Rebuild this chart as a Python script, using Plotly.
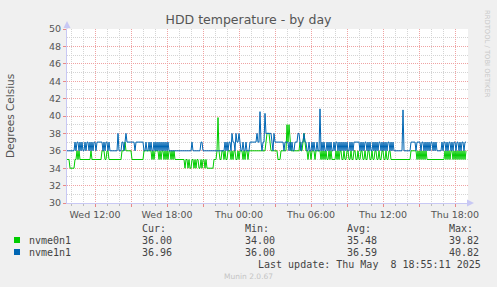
import pandas as pd
import plotly.graph_objects as go

# ---------------- data (5-minute samples, Wed 09:40 -> Thu 18:55) ----------------
start_time = "2025-05-07 09:40"
step = "5min"

nvme0n1 = [
    35, 35, 35,
    34, 34, 34, 34, 34,
    35, 35,
    36, 35, 36, 35,
    35, 35, 35, 35, 35, 35, 35, 35, 35,
    35, 36, 35,
    35, 35, 35, 35, 35, 35, 35, 35, 35,
    36, 36, 36,
    35, 35,
    36, 36,
    35, 35, 35, 35, 35, 35, 35, 35, 35, 35, 35, 35,
    35, 36, 36, 36,
    37, 36,
    36, 36, 36, 36, 36,
    35, 35, 35, 35, 35, 35, 35, 35, 35, 35, 35, 35,
    36, 36, 36, 36, 36, 36, 36, 36,
    35, 36, 35, 36, 36, 36, 36,
    35, 36, 35, 36, 36, 35, 36, 35, 36, 35, 36, 36, 35, 36, 35, 36, 35,
    35, 35, 35, 35, 35, 35, 35, 35, 35,
    34, 35, 35, 34, 35, 34, 34, 35, 35, 34, 35, 34, 35, 35, 34, 34, 35, 34, 35, 35, 34, 35,
    34, 34, 34, 34, 34, 34, 34,
    35, 35, 35, 36,
    39.82,
    36, 35, 35, 36, 36, 35, 36, 35, 35, 36, 36, 36, 35, 36, 35, 36,
    36, 35, 35, 36, 35, 36, 36, 36, 35, 36, 35, 36, 36, 35, 36, 36,
    36, 36, 36, 36, 36, 36, 36, 36, 36, 36, 36, 36, 36, 36, 36,
    37, 38, 38,
    38, 37, 36, 36,
    36, 36, 36, 36, 36,
    35, 35, 35,
    36, 36, 36, 36, 36, 36,
    39, 37, 39, 37,
    36, 36, 36, 36, 36, 36, 36, 36, 36, 37, 36, 36,
    37, 38, 37, 36,
    36, 35, 36, 36, 35, 36, 36, 36, 35, 36, 36, 36, 36, 36,
    35, 36, 35, 36, 35, 36, 35, 35, 36, 35, 36, 35, 35, 35, 35, 36, 35, 36,
    35, 36, 36, 35, 35, 36, 35, 35, 36, 36, 35, 35, 36, 35, 35,
    36, 36, 35, 35, 36, 35, 35, 36, 36, 35, 35, 36, 35, 35, 36,
    36, 35, 35, 36, 35, 35, 36, 36, 35, 35, 36, 35, 35, 36, 36,
    35, 35, 36, 35, 35, 36, 36, 35, 35, 35,
    35, 35, 35, 35, 35, 35, 35, 35, 35, 35, 35, 35, 35, 35, 35, 35, 35,
    36, 36, 36, 36, 36, 36,
    35, 36, 35, 36, 35, 36, 35, 36, 35, 36, 35,
    35, 35, 35, 35, 35, 35, 35, 35, 35, 35, 35, 35, 35, 35, 35, 35, 35,
    36, 35, 36, 35, 36, 35, 36, 36, 35, 36, 35, 36, 35, 36, 35, 36, 35, 36, 35, 36, 35, 36,
]

nvme1n1 = [
    36, 36, 36, 36, 36, 36, 36, 36,
    37, 36, 37, 37, 36, 37, 36, 37, 36, 36, 37, 36, 37, 37, 36, 37, 36, 37, 36, 37, 37, 36,
    37, 37, 37, 37, 37, 37,
    36, 37, 36, 37, 37, 36, 37, 36,
    36, 36, 36, 36, 36, 36, 36,
    38,
    36, 36, 36,
    37, 37, 36,
    37, 38, 37, 37,
    37, 37, 37, 37, 37, 37,
    36,
    37, 37, 37, 37, 37, 37, 37, 37,
    36, 36, 37, 36, 36, 37, 36, 37, 36, 36, 37, 36, 37, 36, 37, 36, 37, 36, 37, 36, 37,
    36, 37, 36, 37, 36,
    36, 36, 36, 36, 36, 36, 36, 36, 36, 36, 36, 36, 36, 36, 36, 36, 36, 36, 36, 36, 36, 36,
    37,
    36, 36, 36, 36, 36, 36, 36, 36, 37,
    37,
    36, 36, 36, 36, 36, 36, 36, 36, 36, 36, 36, 36, 36, 36, 36, 36, 36, 36, 36, 36, 36, 36,
    37, 36, 37, 36, 37, 37, 36,
    38,
    37, 37, 36,
    38, 37,
    37, 38, 37,
    36, 36, 37, 36, 36, 37, 36, 36, 36,
    37, 37, 37, 37, 37, 37, 37, 38, 37, 37,
    40.5,
    37, 36, 37, 37,
    40.3,
    38, 38, 38, 38, 38, 38,
    37, 36,
    38,
    37, 37,
    37, 37, 37, 37, 37, 37, 37, 36, 37, 37, 37,
    37, 36, 37, 36, 37, 36, 36, 37,
    37, 37, 38, 38, 37, 36,
    37, 37, 38, 37, 37, 36,
    36, 37, 36, 36, 37, 36, 37, 36, 36, 37, 36, 36,
    40.82,
    36, 37, 36, 37, 36, 36, 37, 36, 37, 36, 37, 36, 36, 37, 36,
    37, 37, 36, 37, 36, 37, 36, 37, 36, 37, 36, 37, 36, 36, 37, 36, 37, 36, 37, 37,
    37, 37, 37, 37,
    36, 37, 36, 37, 36, 37, 37, 36, 37, 36, 37, 36, 36, 37, 36, 37, 36,
    37, 36, 37, 37, 36, 37, 36, 37, 36, 37, 36, 37, 37, 36, 37, 36, 37,
    36, 36, 36, 36, 36, 36, 36, 36, 36,
    40.7,
    36, 36, 36, 36, 36, 36, 36,
    37, 37, 37, 37, 37, 36, 37, 37, 37, 37, 36, 37, 37, 36, 37, 36, 37, 36, 37, 36, 37, 37, 36, 37, 36, 37,
    36, 36, 36, 36, 36,
    37, 36, 37, 37, 36, 37, 36, 37, 37, 36, 37, 36, 37, 37, 36, 37, 37, 36, 37, 36, 37, 37, 36, 37, 37,
]

series_names = ["nvme0n1", "nvme1n1"]
series_colors = ["#00CC00", "#0066B3"]
stat_headers = ["Cur:", "Min:", "Avg:", "Max:"]
stat_values = [
    ["36.00", "34.00", "35.48", "39.82"],
    ["36.96", "36.00", "36.59", "40.82"],
]

x_tickvals = ["2025-05-07 12:00", "2025-05-07 15:00", "2025-05-07 18:00", "2025-05-07 21:00",
              "2025-05-08 00:00", "2025-05-08 03:00", "2025-05-08 06:00", "2025-05-08 09:00",
              "2025-05-08 12:00", "2025-05-08 15:00", "2025-05-08 18:00"]
x_ticktext = ["Wed 12:00", "", "Wed 18:00", "", "Thu 00:00", "", "Thu 06:00", "",
              "Thu 12:00", "", "Thu 18:00"]
x_range = ["2025-05-07 09:40", "2025-05-08 19:05"]
y_range = [30, 50]

title_text = "HDD temperature - by day"
y_title = "Degrees Celsius"
last_update = "Last update: Thu May  8 18:55:11 2025"
footer = "Munin 2.0.67"
side_text = "RRDTOOL / TOBI OETIKER"

# ---------------- layout geometry (pixels) ----------------
W, H = 497, 287
L, R, T, B = 67, 468, 29, 203


def px(x):
    return (x - L) / (R - L)


def py(y):
    return (B - y) / (B - T)


MAJ = "#EFA3A3"
MIN = "#D4D4D4"
AXC = "#C8C8F4"
TXT = "#555555"

fig = go.Figure()
for name, vals, col in zip(series_names, [nvme0n1, nvme1n1], series_colors):
    t = pd.date_range(start_time, periods=len(vals), freq=step)
    fig.add_trace(go.Scatter(x=t, y=vals, mode="lines", name=name,
                             line=dict(color=col, width=1), hoverinfo="skip"))

fig.update_layout(
    width=W, height=H,
    margin=dict(l=L, r=W - R, t=T, b=H - B, pad=0),
    paper_bgcolor="#F0F0F0", plot_bgcolor="#FFFFFF",
    showlegend=False,
    font=dict(family="DejaVu Sans", size=10, color=TXT),
    title=dict(text=title_text, x=0.5, xanchor="center", y=1 - 20 / H, yanchor="middle",
               font=dict(family="DejaVu Sans", size=12.5, color=TXT)),
)

fig.update_xaxes(
    type="date", range=x_range, tickmode="array", tickvals=x_tickvals, ticktext=x_ticktext,
    showgrid=True, gridcolor=MAJ, griddash="1px,1px", gridwidth=1,
    ticks="outside", ticklen=3, tickcolor="#E88888",
    tickfont=dict(family="DejaVu Sans", size=9.5, color=TXT),
    showline=True, linecolor=AXC, linewidth=1, zeroline=False,
    minor=dict(tickmode="linear", tick0="2025-05-07 00:00", dtick=3600000,
               showgrid=True, gridcolor=MIN, griddash="1px,1px", gridwidth=1,
               ticks="outside", ticklen=2, tickcolor="#BBBBBB"),
    fixedrange=True,
)
fig.update_yaxes(
    range=y_range, tickmode="linear", tick0=30, dtick=2,
    showgrid=True, gridcolor=MAJ, griddash="1px,1px", gridwidth=1,
    ticks="outside", ticklen=3, tickcolor="#E88888",
    tickfont=dict(family="DejaVu Sans", size=9.5, color=TXT),
    showline=True, linecolor=AXC, linewidth=1, zeroline=False,
    minor=dict(tickmode="linear", tick0=30, dtick=1,
               showgrid=True, gridcolor=MIN, griddash="1px,1px", gridwidth=1),
    fixedrange=True,
)

shapes = []
# axis extension and arrowheads
shapes.append(dict(type="line", xref="paper", yref="paper", x0=0, x1=0, y0=1, y1=py(24),
                   line=dict(color=AXC, width=1)))
shapes.append(dict(type="path", xref="paper", yref="paper",
                   path=f"M {px(67)} {py(21)} L {px(63.5)} {py(28)} L {px(70.5)} {py(28)} Z",
                   fillcolor=AXC, line=dict(width=0)))
shapes.append(dict(type="path", xref="paper", yref="paper",
                   path=f"M {px(474)} {py(203)} L {px(467)} {py(199.5)} L {px(467)} {py(206.5)} Z",
                   fillcolor=AXC, line=dict(width=0)))
# legend squares
for i, col in enumerate(series_colors):
    yc = 240 + 12 * i
    shapes.append(dict(type="rect", xref="paper", yref="paper",
                       x0=px(14), x1=px(20), y0=py(yc - 3), y1=py(yc + 3),
                       fillcolor=col, line=dict(width=0)))
fig.update_layout(shapes=shapes)

MONO = dict(family="DejaVu Sans Mono", size=10, color="#444444")
ann = []
ann.append(dict(text=y_title, xref="paper", yref="paper", x=px(10), y=py(116),
                textangle=-90, showarrow=False, xanchor="center", yanchor="middle",
                font=dict(family="DejaVu Sans", size=10.5, color=TXT)))
col_x = [140, 243, 345, 447]
for hx, h in zip(col_x, stat_headers):
    ann.append(dict(text=h, xref="paper", yref="paper", x=px(hx), y=py(228),
                    showarrow=False, xanchor="left", yanchor="middle", font=MONO))
for i, (name, vals) in enumerate(zip(series_names, stat_values)):
    yc = 240 + 12 * i
    ann.append(dict(text=name, xref="paper", yref="paper", x=px(27), y=py(yc),
                    showarrow=False, xanchor="left", yanchor="middle", font=MONO))
    for hx, v in zip(col_x, vals):
        ann.append(dict(text=v, xref="paper", yref="paper", x=px(hx), y=py(yc),
                        showarrow=False, xanchor="left", yanchor="middle", font=MONO))
ann.append(dict(text=last_update.replace("  ", "&nbsp; "), xref="paper", yref="paper",
                x=px(483), y=py(264), showarrow=False, xanchor="right", yanchor="middle",
                font=MONO))
ann.append(dict(text=footer, xref="paper", yref="paper", x=px(248), y=py(276),
                showarrow=False, xanchor="center", yanchor="middle",
                font=dict(family="DejaVu Sans", size=7.5, color="#C4C4C4")))
ann.append(dict(text=side_text, xref="paper", yref="paper", x=px(487), y=py(54),
                textangle=90, showarrow=False, xanchor="center", yanchor="middle",
                font=dict(family="DejaVu Sans", size=6.8, color="#C8C8C8")))
fig.update_layout(annotations=ann)

fig.write_html("out.html", config={"displayModeBar": False})
